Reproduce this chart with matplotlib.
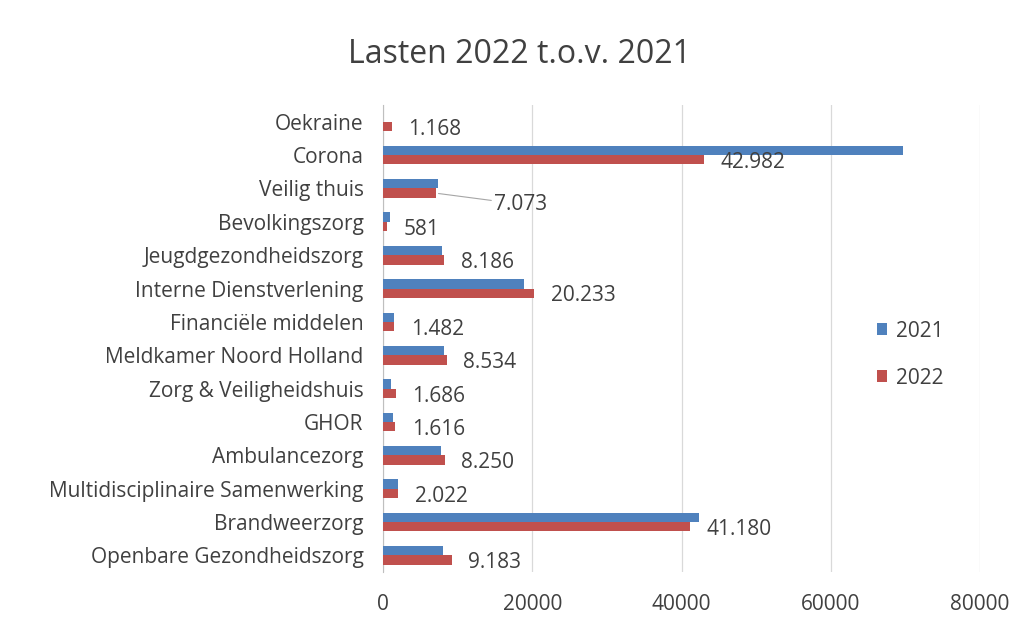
import matplotlib.pyplot as plt

# categorieen van boven naar beneden
categories = ['Oekraine', 'Corona', 'Veilig thuis', 'Bevolkingszorg',
              'Jeugdgezondheidszorg', 'Interne Dienstverlening',
              'Financiële middelen', 'Meldkamer Noord Holland',
              'Zorg & Veiligheidshuis', 'GHOR', 'Ambulancezorg',
              'Multidisciplinaire Samenwerking', 'Brandweerzorg',
              'Openbare Gezondheidszorg']
lasten_2021 = [0, 69700, 7350, 900, 7900, 18900, 1500, 8200, 1100, 1300,
               7800, 2000, 42300, 8000]
lasten_2022 = [1168, 42982, 7073, 581, 8186, 20233, 1482, 8534, 1686, 1616,
               8250, 2022, 41180, 9183]
x_ticks = [0, 20000, 40000, 60000, 80000]

blauw = '#4F81BD'
rood = '#C0504D'
grijs = '#404040'

plt.rcParams['font.family'] = ['Open Sans', 'DejaVu Sans']

fig = plt.figure(figsize=(10.18, 6.37), dpi=100)
ax = fig.add_axes([0.3762, 0.102, 0.5865, 0.733])

n = len(categories)
ys = [n - 1 - i for i in range(n)]
h = 0.28

ax.barh([y + h / 2 for y in ys], lasten_2021, height=h, color=blauw, label='2021', zorder=3)
ax.barh([y - h / 2 for y in ys], lasten_2022, height=h, color=rood, label='2022', zorder=3)

# data labels 2022 (Nederlandse notatie)
for y, v, cat in zip(ys, lasten_2022, categories):
    tekst = f'{v:,}'.replace(',', '.')
    if cat == 'Veilig thuis':
        ax.annotate(tekst, xy=(v, y - h / 2), xytext=(42, -8), textcoords='offset points',
                    va='center', ha='left', fontsize=15, color=grijs,
                    arrowprops=dict(arrowstyle='-', color='#A6A6A6', lw=0.8,
                                    shrinkA=0, shrinkB=2))
    else:
        ax.annotate(tekst, xy=(v, y - h / 2), xytext=(12, -2), textcoords='offset points',
                    va='center', ha='left', fontsize=15, color=grijs)

ax.set_xlim(0, 80000)
ax.set_ylim(-0.5, n - 0.5)
ax.set_xticks(x_ticks)
ax.set_xticklabels([str(t) for t in x_ticks])
ax.set_yticks(ys)
ax.set_yticklabels(categories)
ax.tick_params(axis='x', length=0, pad=16, labelsize=15, labelcolor=grijs)
ax.tick_params(axis='y', length=0, pad=14, labelsize=15, labelcolor=grijs)
ax.grid(axis='x', color='#D9D9D9', lw=0.9, zorder=0)
for s in ['top', 'right', 'bottom']:
    ax.spines[s].set_visible(False)
ax.spines['left'].set_color('#BFBFBF')

fig.legend(loc='center left', bbox_to_anchor=(0.843, 0.443), frameon=False,
           fontsize=15, labelcolor=grijs, handlelength=0.5, handleheight=0.5,
           handletextpad=0.4, labelspacing=1.25)

fig.suptitle('Lasten 2022 t.o.v. 2021', x=0.51, y=0.914, va='center',
             fontsize=23, color=grijs)

fig.savefig('out.png', dpi=100)
